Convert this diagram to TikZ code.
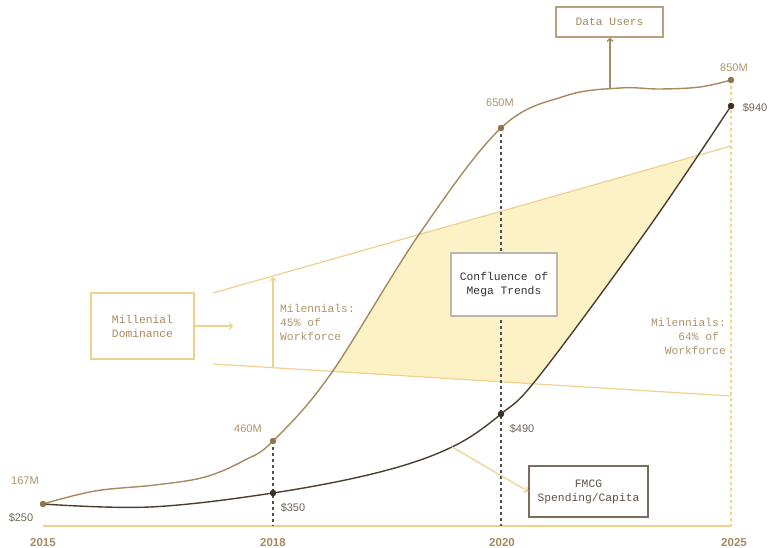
\documentclass[tikz,border=0pt]{standalone}
\usepackage{fontspec}
\setmainfont{Liberation Sans}
\newfontfamily\monof{Liberation Mono}
\usetikzlibrary{arrows.meta}
\definecolor{tanc}{HTML}{A8895C}
\definecolor{tanlabel}{HTML}{B09368}
\definecolor{darkc}{HTML}{4B3E30}
\definecolor{yel}{HTML}{EDD18C}
\definecolor{fillc}{HTML}{FDF1C6}
\definecolor{dashc}{HTML}{4F4F4F}
\definecolor{greyb}{HTML}{BDB6AA}
\definecolor{fmcgb}{HTML}{7A6B5B}
\tikzset{
  mono/.style={font=\monof\fontsize{11.3}{14}\selectfont},
  num/.style={font=\fontsize{11}{13}\selectfont, text=tanlabel, inner sep=0pt},
  yr/.style={font=\bfseries\fontsize{11.5}{13}\selectfont, text=tanc, inner sep=0pt},
  boxn/.style={mono, draw, line width=1.2pt, align=center, inner sep=0pt},
  tip/.style={-{Straight Barb[length=3pt,width=6pt]}},
  gdash/.style={dashc, line width=1.2pt, dash pattern=on 3pt off 3pt},
  tdot/.style={circle, fill=#1, inner sep=0pt, minimum size=6pt},
}
\def\datapath{plot[smooth,tension=0.6] coordinates {(43,504) (95,491) (155,485) (205,477) (245,460) (273,441) (330,375) (420,233) (501,128) (565,96) (620,88) (660,89) (700,87) (731,80)}}
\def\fmcgpath{plot[smooth,tension=0.6] coordinates {(43,504) (150,507) (273,493) (380,472) (452,447) (501,414) (540,375) (647,230) (731,106)}}
\begin{document}
\begin{tikzpicture}[x=1pt,y=-1pt]
\useasboundingbox (0,0) rectangle (769,548);
% fill region
\begin{scope}
  \clip (213,293) -- (731,146) -- (731,396) -- (213,364) -- cycle;
  \clip \datapath -- (731,548) -- (43,548) -- cycle;
  \clip \fmcgpath -- (731,0) -- (43,0) -- cycle;
  \fill[fillc] (0,0) rectangle (769,548);
\end{scope}
% band lines
\coordinate (ul0) at (213,293);
\coordinate (ul1) at (731,146);
\coordinate (ll0) at (213,364);
\coordinate (ll1) at (731,396);
\draw[yel, line width=1.2pt] (ul0) -- (ul1);
\draw[yel, line width=1.2pt] (ll0) -- (ll1);
% baseline
\coordinate (b0) at (43,526);
\coordinate (b1) at (731,526);
\coordinate (b18) at (273,526);
\coordinate (b20) at (501,526);
\draw[yel, line width=1.4pt] (b0) -- (b1);
% dots
\node[tdot=tanc] (d15) at (43,504) {};
\node[tdot=tanc] (d18) at (273,441) {};
\node[tdot=tanc] (d20) at (501,128) {};
\node[tdot=tanc] (d25) at (731,80) {};
\node[tdot=darkc] (f18) at (273,493) {};
\node[tdot=darkc] (f20) at (501,414) {};
\node[tdot=darkc] (f25) at (731,106) {};
% dashed verticals
\draw[gdash] (d18.center) -- (b18);
\draw[gdash] (d20.center) -- (b20);
\draw[yel, line width=1.1pt, dash pattern=on 3pt off 3pt] (d25.center) -- (b1);
% curves
\draw[tanc, line width=1.4pt] \datapath;
\draw[darkc, line width=1.4pt] \fmcgpath;
% redraw dots on top
\fill[tanc!85!black] (d15.center) circle (3.2pt) (d18.center) circle (3.2pt) (d20.center) circle (3.2pt) (d25.center) circle (3.2pt);
\fill[darkc!80!black] (f18.center) circle (3.2pt) (f20.center) circle (3.2pt) (f25.center) circle (3.2pt);
% number labels
\node[num] (l167) at (25,481) {167M};
\node[num, text=darkc!80] (l250) at (21,518) {\$250};
\node[num] (l460) at (248,429) {460M};
\node[num] (l650) at (500,103) {650M};
\node[num] (l850) at (734,68) {850M};
\node[num, text=darkc!80] (l350) at (293,508) {\$350};
\node[num, text=darkc!80] (l490) at (522,429) {\$490};
\node[num, text=darkc!80] (l940) at (755,108) {\$940};
% years
\node[yr] (y15) at (43,543) {2015};
\node[yr] (y18) at (273,543) {2018};
\node[yr] (y20) at (502,543) {2020};
\node[yr] (y25) at (734,543) {2025};
% boxes
\node[boxn, draw=yel, text=tanc, minimum width=103pt, minimum height=66pt] (mil) at (142.5,326) {Millenial\\Dominance};
\node[boxn, draw=greyb, fill=white, text=black!80, minimum width=106pt, minimum height=63pt] (conf) at (504,284.5) {Confluence of\\Mega Trends};
\node[boxn, draw=tanc!80, text=tanc, minimum width=107pt, minimum height=30pt] (users) at (609.5,22) {Data Users};
\node[boxn, draw=fmcgb, text=darkc!90, minimum width=119pt, minimum height=51pt] (fmcg) at (588.5,491.5) {FMCG\\Spending/Capita};
% side labels
\node[mono, text=tanlabel, align=left, anchor=west, inner sep=0pt] (m45) at (280,322) {Milennials:\\45\% of\\Workforce};
\node[mono, text=tanlabel, align=right, anchor=east, inner sep=0pt] (m64) at (726,336) {Milennials:\\64\% of\hphantom{x}\\Workforce};
% arrows
\coordinate (milto) at (233,326);
\draw[yel, line width=1.2pt, tip] (mil.east) -- (milto);
\coordinate (v0) at (273,367);
\coordinate (v1) at (273,277);
\draw[yel, line width=1.2pt, tip] (v0) -- (v1);
\coordinate (uc) at (610,89);
\draw[tanc, line width=1.2pt, tip] (uc) -- (users.south -| uc);
\coordinate (fc) at (452,447);
\draw[yel, line width=1.2pt, tip] (fc) -- (fmcg.west);
\end{tikzpicture}
\end{document}
